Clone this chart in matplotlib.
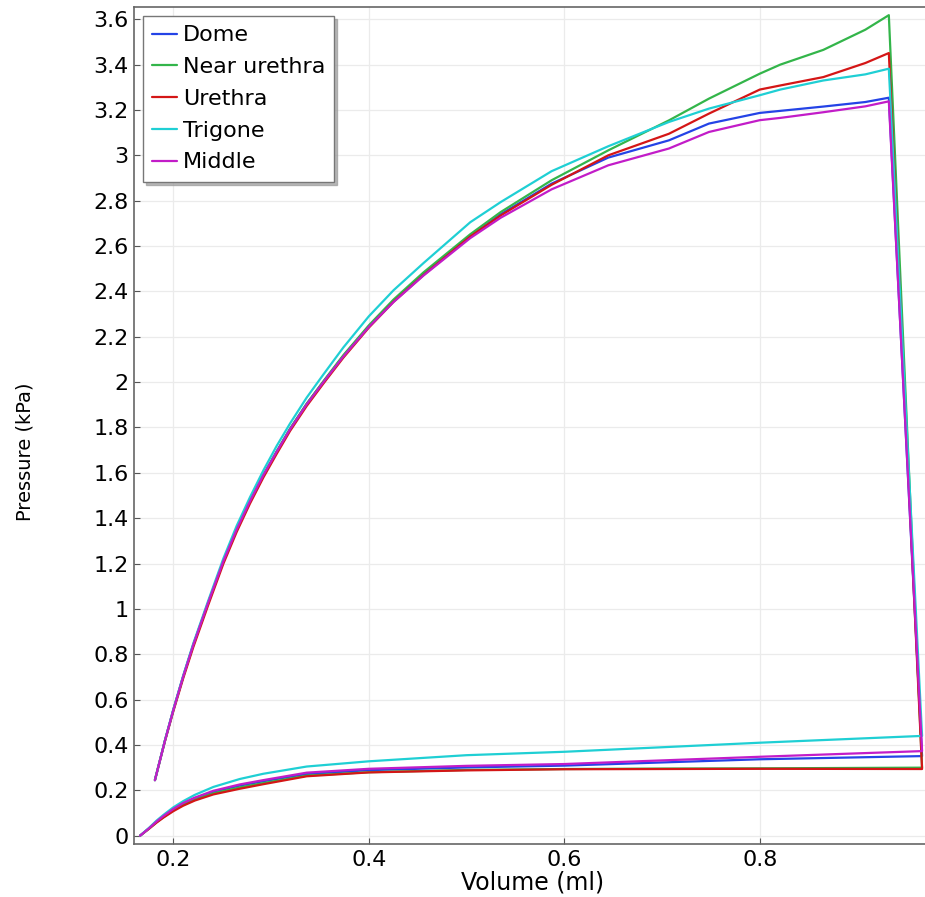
import matplotlib
matplotlib.use("Agg")
import matplotlib.pyplot as plt
from matplotlib.ticker import FuncFormatter

# ---------------- data ----------------
series_names = ["Dome", "Near urethra", "Urethra", "Trigone", "Middle"]
series_colors = ["#2443e6", "#33b54a", "#d41616", "#1fcfd4", "#c21cc8"]

# upper (loaded) branch
upper_x = [0.1812, 0.1915, 0.2000, 0.2102, 0.2205, 0.2358, 0.2512, 0.2648,
           0.2785, 0.2922, 0.3058, 0.3195, 0.3365, 0.3536, 0.3740, 0.4000,
           0.4253, 0.4560, 0.5038, 0.535, 0.587, 0.645, 0.707, 0.748, 0.800,
           0.821, 0.865, 0.908, 0.932]
upper_dome = [0.245, 0.420, 0.554, 0.703, 0.842, 1.029, 1.210, 1.350, 1.475,
              1.590, 1.694, 1.794, 1.904, 2.002, 2.116, 2.246, 2.358, 2.476,
              2.642, 2.74, 2.875, 2.99, 3.066, 3.14, 3.187, 3.196, 3.215,
              3.235, 3.254]
upper_near = [0.245, 0.420, 0.554, 0.703, 0.842, 1.029, 1.210, 1.350, 1.475,
              1.590, 1.694, 1.795, 1.905, 2.004, 2.119, 2.250, 2.364, 2.484,
              2.652, 2.75, 2.89, 3.022, 3.154, 3.25, 3.36, 3.40, 3.465,
              3.554, 3.618]
upper_ureth = [0.245, 0.417, 0.548, 0.695, 0.832, 1.018, 1.199, 1.339, 1.465,
               1.580, 1.684, 1.785, 1.895, 1.994, 2.108, 2.240, 2.354, 2.472,
               2.642, 2.735, 2.87, 3.0, 3.095, 3.184, 3.29, 3.308, 3.345,
               3.407, 3.451]
upper_trig = [0.245, 0.421, 0.556, 0.707, 0.848, 1.037, 1.222, 1.366, 1.493,
              1.611, 1.719, 1.818, 1.932, 2.034, 2.153, 2.290, 2.405, 2.525,
              2.705, 2.794, 2.93, 3.04, 3.147, 3.206, 3.265, 3.29, 3.33,
              3.357, 3.382]
upper_mid = [0.245, 0.420, 0.554, 0.703, 0.842, 1.029, 1.210, 1.350, 1.475,
             1.590, 1.693, 1.792, 1.902, 2.000, 2.113, 2.243, 2.353, 2.470,
             2.635, 2.725, 2.85, 2.956, 3.03, 3.103, 3.155, 3.165, 3.19,
             3.216, 3.238]

# lower (filling) branch
lower_x = [0.166, 0.175, 0.183, 0.190, 0.200, 0.210, 0.222, 0.241, 0.268,
           0.292, 0.3365, 0.400, 0.500, 0.600, 0.700, 0.800, 0.966]
lower_dome = [0.0, 0.032, 0.062, 0.085, 0.116, 0.141, 0.165, 0.194, 0.221,
              0.240, 0.272, 0.289, 0.301, 0.309, 0.323, 0.337, 0.351]
lower_near = [0.0, 0.031, 0.060, 0.082, 0.112, 0.136, 0.159, 0.187, 0.213,
              0.232, 0.265, 0.280, 0.290, 0.294, 0.296, 0.297, 0.300]
lower_ureth = [0.0, 0.030, 0.058, 0.080, 0.108, 0.132, 0.155, 0.182, 0.207,
               0.227, 0.262, 0.279, 0.288, 0.293, 0.294, 0.295, 0.294]
lower_trig = [0.0, 0.034, 0.067, 0.092, 0.125, 0.152, 0.180, 0.215, 0.250,
              0.273, 0.305, 0.328, 0.355, 0.370, 0.390, 0.410, 0.440]
lower_mid = [0.0, 0.032, 0.063, 0.087, 0.118, 0.144, 0.168, 0.198, 0.226,
             0.245, 0.278, 0.295, 0.308, 0.316, 0.332, 0.348, 0.373]

upper_all = [upper_dome, upper_near, upper_ureth, upper_trig, upper_mid]
lower_all = [lower_dome, lower_near, lower_ureth, lower_trig, lower_mid]

x_ticks = [0.2, 0.4, 0.6, 0.8]
y_ticks = [round(0.2 * i, 1) for i in range(19)]

# ---------------- figure ----------------
fig = plt.figure(figsize=(9.25, 8.97), dpi=100)
ax = fig.add_axes([134 / 925, 53 / 897, 1 - 134 / 925, (844 - 7) / 897])

for name, col, up, lo in zip(series_names, series_colors, upper_all, lower_all):
    xs = list(upper_x) + list(reversed(lower_x))
    ys = list(up) + list(reversed(lo))
    ax.plot(xs, ys, color=col, lw=1.6, label=name,
            solid_joinstyle="round", solid_capstyle="round")

ax.set_xlim(0.1598, 0.969)
ax.set_ylim(-0.0366, 3.654)
ax.set_xticks(x_ticks)
ax.set_yticks(y_ticks)
fmt = FuncFormatter(lambda v, p: f"{v:g}")
ax.xaxis.set_major_formatter(fmt)
ax.yaxis.set_major_formatter(fmt)
ax.tick_params(axis="both", direction="in", length=4, width=0.8, color="#555555",
               labelsize=16, pad=4, labelcolor="black")
ax.grid(True, color="#ebebeb", lw=0.9)
ax.set_axisbelow(True)
for s in ["left", "bottom", "top"]:
    ax.spines[s].set_color("#666666")
    ax.spines[s].set_linewidth(1.2)
ax.spines["right"].set_visible(False)

ax.set_xlabel("Volume (ml)", fontsize=17, va="center")
ax.xaxis.set_label_coords(0.5045, (844 - 882) / 837)
ax.set_ylabel("Pressure (kPa)", fontsize=14, va="center")
ax.yaxis.set_label_coords((25 - 134) / 791, (844 - 452) / 837)

leg = ax.legend(loc="upper left", bbox_to_anchor=(9 / 791, 1 - 9 / 837),
                fontsize=16, frameon=True, fancybox=False,
                shadow={"color": "#9a9a9a", "alpha": 0.7},
                handlelength=1.1, handletextpad=0.27, borderpad=0.42,
                labelspacing=0.53, borderaxespad=0)
leg.get_frame().set_edgecolor("#777777")
leg.get_frame().set_linewidth(1.0)

fig.savefig("out.png", dpi=100)
